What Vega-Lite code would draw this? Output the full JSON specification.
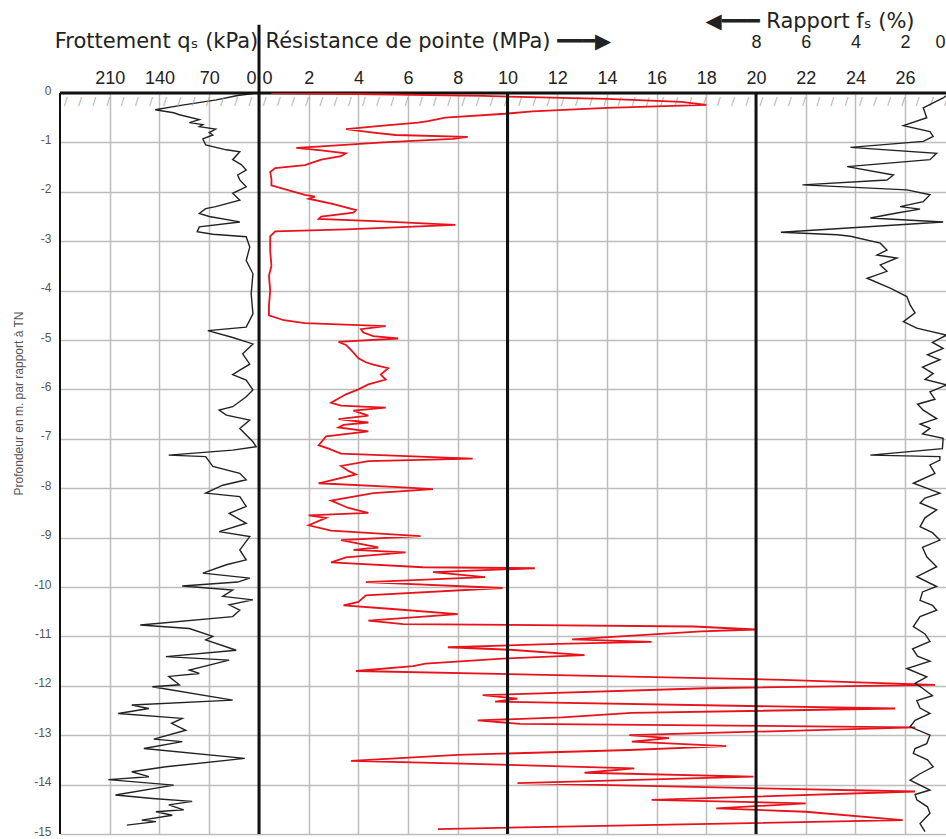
{
"$schema": "https://vega.github.io/schema/vega-lite/v6.json",
"autosize": {"type": "none"},
"padding": {"left": 60, "top": 93, "right": 0, "bottom": 5},
"width": 886,
"height": 741,
"background": "white",
"config": {
  "view": {"stroke": null},
  "axis": {"labelFont": "Liberation Sans", "titleFont": "DejaVu Sans", "titleFontWeight": "normal", "tickSize": 0, "ticks": false, "domain": false, "gridColor": "#bdbdbd", "gridWidth": 1.5, "labelColor": "#222", "titleColor": "#222"}
},
"datasets": {
  "qs": [
    {"d":-0.01,"v":8.5},{"d":-0.05,"v":30},{"d":-0.14,"v":60},{"d":-0.25,"v":110},{"d":-0.34,"v":146},{"d":-0.4,"v":120},{"d":-0.44,"v":112},{"d":-0.54,"v":84},{"d":-0.6,"v":98},{"d":-0.64,"v":79},{"d":-0.68,"v":84},{"d":-0.73,"v":61},{"d":-0.8,"v":70},{"d":-0.85,"v":65},{"d":-0.93,"v":79},{"d":-1.05,"v":75},{"d":-1.15,"v":46},{"d":-1.19,"v":27},{"d":-1.35,"v":37},{"d":-1.45,"v":25},{"d":-1.56,"v":18},{"d":-1.66,"v":30},{"d":-1.76,"v":27},{"d":-1.9,"v":18},{"d":-2.03,"v":37},{"d":-2.17,"v":27},{"d":-2.3,"v":61},{"d":-2.34,"v":75},{"d":-2.44,"v":84},{"d":-2.5,"v":70},{"d":-2.61,"v":27},{"d":-2.71,"v":84},{"d":-2.81,"v":87},{"d":-2.86,"v":65},{"d":-2.91,"v":18},{"d":-3.12,"v":13},{"d":-3.39,"v":18},{"d":-3.66,"v":8.5},{"d":-4.07,"v":11},{"d":-4.47,"v":8.5},{"d":-4.74,"v":18},{"d":-4.81,"v":72},{"d":-4.95,"v":37},{"d":-5.08,"v":8.5},{"d":-5.28,"v":23},{"d":-5.49,"v":13},{"d":-5.61,"v":27},{"d":-5.7,"v":37},{"d":-5.81,"v":18},{"d":-6.01,"v":8.5},{"d":-6.15,"v":18},{"d":-6.35,"v":37},{"d":-6.42,"v":56},{"d":-6.52,"v":46},{"d":-6.62,"v":13},{"d":-6.79,"v":27},{"d":-7.06,"v":8.5},{"d":-7.16,"v":4},{"d":-7.23,"v":37},{"d":-7.33,"v":127},{"d":-7.36,"v":75},{"d":-7.56,"v":65},{"d":-7.7,"v":27},{"d":-7.83,"v":18},{"d":-7.94,"v":51},{"d":-8.1,"v":75},{"d":-8.17,"v":27},{"d":-8.37,"v":18},{"d":-8.51,"v":42},{"d":-8.71,"v":18},{"d":-8.88,"v":56},{"d":-8.98,"v":13},{"d":-9.25,"v":27},{"d":-9.45,"v":18},{"d":-9.55,"v":46},{"d":-9.72,"v":79},{"d":-9.82,"v":13},{"d":-9.9,"v":30},{"d":-9.98,"v":108},{"d":-10.06,"v":37},{"d":-10.19,"v":51},{"d":-10.26,"v":8.5},{"d":-10.36,"v":42},{"d":-10.47,"v":27},{"d":-10.6,"v":37},{"d":-10.77,"v":167},{"d":-10.84,"v":98},{"d":-11.0,"v":65},{"d":-11.07,"v":75},{"d":-11.28,"v":32},{"d":-11.41,"v":131},{"d":-11.48,"v":42},{"d":-11.68,"v":98},{"d":-11.75,"v":84},{"d":-11.81,"v":127},{"d":-11.98,"v":112},{"d":-12.02,"v":150},{"d":-12.29,"v":37},{"d":-12.39,"v":179},{"d":-12.46,"v":155},{"d":-12.56,"v":198},{"d":-12.66,"v":108},{"d":-12.76,"v":123},{"d":-12.9,"v":103},{"d":-13.08,"v":148},{"d":-13.13,"v":108},{"d":-13.27,"v":162},{"d":-13.47,"v":20},{"d":-13.64,"v":131},{"d":-13.74,"v":179},{"d":-13.84,"v":155},{"d":-13.9,"v":212},{"d":-14.01,"v":120},{"d":-14.21,"v":202},{"d":-14.28,"v":150},{"d":-14.34,"v":94},{"d":-14.41,"v":127},{"d":-14.51,"v":106},{"d":-14.55,"v":145},{"d":-14.62,"v":122},{"d":-14.72,"v":165},{"d":-14.75,"v":145},{"d":-14.82,"v":186}
  ],
  "qc": [
    {"d":0,"v":0.5},{"d":-0.02,"v":4},{"d":-0.06,"v":9},{"d":-0.12,"v":14},{"d":-0.18,"v":17},{"d":-0.24,"v":18.0},{"d":-0.3,"v":14},{"d":-0.37,"v":11},{"d":-0.42,"v":9.9},{"d":-0.5,"v":7.5},{"d":-0.57,"v":6.8},{"d":-0.6,"v":6.4},{"d":-0.66,"v":5.0},{"d":-0.73,"v":3.5},{"d":-0.8,"v":4.6},{"d":-0.85,"v":5.5},{"d":-0.89,"v":8.4},{"d":-0.93,"v":7.8},{"d":-1.0,"v":5},{"d":-1.08,"v":2.5},{"d":-1.11,"v":1.5},{"d":-1.16,"v":2.5},{"d":-1.22,"v":3.5},{"d":-1.28,"v":3.3},{"d":-1.35,"v":2.5},{"d":-1.46,"v":1.85},{"d":-1.52,"v":0.65},{"d":-1.6,"v":0.45},{"d":-1.74,"v":0.5},{"d":-1.87,"v":0.5},{"d":-1.97,"v":1.2},{"d":-2.06,"v":1.85},{"d":-2.1,"v":2.25},{"d":-2.14,"v":2.0},{"d":-2.25,"v":3.0},{"d":-2.37,"v":3.9},{"d":-2.42,"v":3.8},{"d":-2.5,"v":2.5},{"d":-2.55,"v":2.4},{"d":-2.6,"v":4.9},{"d":-2.67,"v":7.9},{"d":-2.72,"v":5.5},{"d":-2.76,"v":3.5},{"d":-2.8,"v":0.65},{"d":-2.9,"v":0.45},{"d":-3.2,"v":0.45},{"d":-3.5,"v":0.5},{"d":-3.7,"v":0.4},{"d":-4.0,"v":0.45},{"d":-4.3,"v":0.4},{"d":-4.5,"v":0.4},{"d":-4.6,"v":1.0},{"d":-4.66,"v":1.85},{"d":-4.72,"v":5.1},{"d":-4.78,"v":4.1},{"d":-4.85,"v":4.2},{"d":-4.92,"v":4.6},{"d":-4.97,"v":5.6},{"d":-5.04,"v":3.2},{"d":-5.1,"v":3.5},{"d":-5.2,"v":3.7},{"d":-5.37,"v":4.0},{"d":-5.45,"v":4.3},{"d":-5.5,"v":4.6},{"d":-5.57,"v":5.2},{"d":-5.7,"v":4.9},{"d":-5.8,"v":5.1},{"d":-5.9,"v":4.4},{"d":-6.0,"v":4.0},{"d":-6.1,"v":3.5},{"d":-6.27,"v":2.9},{"d":-6.33,"v":3.3},{"d":-6.37,"v":5.1},{"d":-6.43,"v":3.8},{"d":-6.53,"v":4.4},{"d":-6.6,"v":3.2},{"d":-6.67,"v":4.4},{"d":-6.72,"v":3.4},{"d":-6.77,"v":3.2},{"d":-6.85,"v":4.4},{"d":-6.95,"v":2.7},{"d":-7.13,"v":2.4},{"d":-7.2,"v":2.8},{"d":-7.3,"v":3.3},{"d":-7.4,"v":8.6},{"d":-7.45,"v":4.4},{"d":-7.55,"v":3.3},{"d":-7.65,"v":3.6},{"d":-7.72,"v":3.9},{"d":-7.9,"v":2.4},{"d":-7.98,"v":5.6},{"d":-8.02,"v":7.0},{"d":-8.1,"v":4.6},{"d":-8.25,"v":2.9},{"d":-8.4,"v":3.6},{"d":-8.5,"v":4.4},{"d":-8.55,"v":2.0},{"d":-8.6,"v":2.7},{"d":-8.75,"v":2.0},{"d":-8.86,"v":2.9},{"d":-8.97,"v":6.5},{"d":-9.05,"v":3.3},{"d":-9.2,"v":4.8},{"d":-9.25,"v":3.8},{"d":-9.3,"v":5.9},{"d":-9.4,"v":3.5},{"d":-9.5,"v":2.9},{"d":-9.6,"v":6.6},{"d":-9.62,"v":11.1},{"d":-9.7,"v":7.0},{"d":-9.8,"v":9.1},{"d":-9.9,"v":4.3},{"d":-10.02,"v":9.8},{"d":-10.17,"v":4.3},{"d":-10.3,"v":4.0},{"d":-10.37,"v":3.4},{"d":-10.45,"v":5.5},{"d":-10.55,"v":8.0},{"d":-10.68,"v":4.4},{"d":-10.75,"v":5.8},{"d":-10.8,"v":17.5},{"d":-10.86,"v":20.0},{"d":-10.9,"v":17.8},{"d":-11.06,"v":12.6},{"d":-11.11,"v":15.8},{"d":-11.15,"v":12.0},{"d":-11.22,"v":7.6},{"d":-11.27,"v":10.1},{"d":-11.38,"v":13.1},{"d":-11.45,"v":9.8},{"d":-11.55,"v":6.7},{"d":-11.6,"v":6.2},{"d":-11.7,"v":3.9},{"d":-11.88,"v":21.1},{"d":-11.91,"v":22.9},{"d":-11.98,"v":27.2},{"d":-12.05,"v":18},{"d":-12.19,"v":9.0},{"d":-12.26,"v":10.4},{"d":-12.32,"v":9.5},{"d":-12.46,"v":25.6},{"d":-12.55,"v":15},{"d":-12.64,"v":12.2},{"d":-12.7,"v":8.8},{"d":-12.77,"v":10.5},{"d":-12.84,"v":26.4},{"d":-13.0,"v":14.9},{"d":-13.06,"v":16.5},{"d":-13.13,"v":15.0},{"d":-13.22,"v":18.8},{"d":-13.3,"v":14.9},{"d":-13.4,"v":8.0},{"d":-13.52,"v":3.7},{"d":-13.57,"v":7.8},{"d":-13.67,"v":15.1},{"d":-13.76,"v":13.1},{"d":-13.84,"v":19.9},{"d":-13.97,"v":10.4},{"d":-14.14,"v":26.4},{"d":-14.31,"v":15.8},{"d":-14.38,"v":22.0},{"d":-14.48,"v":18.4},{"d":-14.55,"v":22.0},{"d":-14.72,"v":25.9},{"d":-14.9,"v":7.2}
  ],
  "rf": [
    {"d":0,"v":0.2},{"d":-0.1,"v":0.47},{"d":-0.3,"v":1.27},{"d":-0.5,"v":1.13},{"d":-0.66,"v":2.07},{"d":-0.78,"v":1.0},{"d":-0.88,"v":0.87},{"d":-0.98,"v":1.27},{"d":-1.1,"v":4.2},{"d":-1.22,"v":0.73},{"d":-1.35,"v":1.0},{"d":-1.49,"v":4.33},{"d":-1.66,"v":2.47},{"d":-1.76,"v":2.73},{"d":-1.86,"v":6.13},{"d":-1.96,"v":1.93},{"d":-2.06,"v":1.0},{"d":-2.2,"v":1.27},{"d":-2.3,"v":2.2},{"d":-2.35,"v":1.4},{"d":-2.43,"v":2.33},{"d":-2.53,"v":3.4},{"d":-2.61,"v":0.47},{"d":-2.82,"v":7.0},{"d":-2.87,"v":4.73},{"d":-2.9,"v":4.2},{"d":-3.04,"v":3.0},{"d":-3.18,"v":2.73},{"d":-3.28,"v":3.13},{"d":-3.34,"v":2.33},{"d":-3.48,"v":3.0},{"d":-3.61,"v":2.73},{"d":-3.75,"v":3.53},{"d":-3.95,"v":2.6},{"d":-4.12,"v":1.93},{"d":-4.29,"v":1.8},{"d":-4.45,"v":1.6},{"d":-4.63,"v":2.07},{"d":-4.76,"v":1.53},{"d":-4.9,"v":0.33},{"d":-5.05,"v":0.9},{"d":-5.17,"v":0.47},{"d":-5.3,"v":1.1},{"d":-5.4,"v":0.6},{"d":-5.55,"v":1.3},{"d":-5.68,"v":0.87},{"d":-5.8,"v":1.2},{"d":-5.91,"v":0.33},{"d":-6.05,"v":1.0},{"d":-6.2,"v":0.8},{"d":-6.3,"v":1.5},{"d":-6.42,"v":1.27},{"d":-6.59,"v":0.73},{"d":-6.7,"v":1.4},{"d":-6.79,"v":1.0},{"d":-6.9,"v":1.3},{"d":-6.99,"v":0.47},{"d":-7.2,"v":0.5},{"d":-7.33,"v":3.4},{"d":-7.36,"v":0.6},{"d":-7.43,"v":0.6},{"d":-7.53,"v":1.0},{"d":-7.7,"v":0.8},{"d":-7.9,"v":1.67},{"d":-8.1,"v":0.6},{"d":-8.2,"v":1.2},{"d":-8.3,"v":1.4},{"d":-8.44,"v":0.73},{"d":-8.6,"v":1.2},{"d":-8.78,"v":1.4},{"d":-8.9,"v":0.9},{"d":-9.05,"v":0.6},{"d":-9.2,"v":1.3},{"d":-9.39,"v":1.13},{"d":-9.59,"v":0.73},{"d":-9.79,"v":1.53},{"d":-9.99,"v":0.73},{"d":-10.1,"v":1.3},{"d":-10.27,"v":1.4},{"d":-10.37,"v":0.9},{"d":-10.47,"v":0.73},{"d":-10.6,"v":1.4},{"d":-10.8,"v":1.67},{"d":-10.95,"v":1.2},{"d":-11.1,"v":1.0},{"d":-11.25,"v":1.7},{"d":-11.4,"v":1.5},{"d":-11.5,"v":1.0},{"d":-11.65,"v":1.93},{"d":-11.82,"v":1.13},{"d":-11.95,"v":1.6},{"d":-12.05,"v":1.3},{"d":-12.2,"v":0.9},{"d":-12.3,"v":1.53},{"d":-12.45,"v":1.4},{"d":-12.56,"v":1.0},{"d":-12.7,"v":1.6},{"d":-12.83,"v":1.8},{"d":-13.0,"v":1.0},{"d":-13.17,"v":1.13},{"d":-13.27,"v":1.6},{"d":-13.37,"v":1.67},{"d":-13.5,"v":1.1},{"d":-13.64,"v":0.87},{"d":-13.78,"v":1.4},{"d":-13.91,"v":1.8},{"d":-14.11,"v":1.0},{"d":-14.2,"v":1.6},{"d":-14.31,"v":1.53},{"d":-14.45,"v":1.1},{"d":-14.58,"v":1.0},{"d":-14.79,"v":1.4},{"d":-14.95,"v":1.2}
  ]
},
"layer": [
  {
    "layer": [
      {
        "data": {"name": "qs"},
        "mark": {"type": "line", "color": "#222", "strokeWidth": 1.4, "clip": true},
        "encoding": {
          "x": {"field": "v", "type": "quantitative",
                "scale": {"domain": [-966.7, 280], "reverse": true, "nice": false, "zero": false},
                "axis": {"orient": "top", "values": [210, 140, 70, 0], "grid": true, "labelFontSize": 18, "labelPadding": 10, "labelBaseline": "alphabetic",
                         "labelAlign": {"condition": {"test": "datum.value == 0", "value": "right"}, "value": "center"},
                         "labelOffset": {"condition": {"test": "datum.value == 0", "value": -3}, "value": 0},
                         "title": "Frottement qₛ (kPa)", "titleFontSize": 21, "titleX": 96, "titleY": -46, "titleBaseline": "alphabetic", "titleAlign": "center"}},
          "y": {"field": "d", "type": "quantitative",
                "scale": {"domain": [-15, 0], "nice": false, "zero": false},
                "axis": {"orient": "left", "values": [0,-1,-2,-3,-4,-5,-6,-7,-8,-9,-10,-11,-12,-13,-14,-15], "grid": true, "labelFontSize": 12, "labelColor": "#555", "labelPadding": 9, "labelOffset": -3,
                         "labelExpr": "replace(datum.label, '−', '-')",
                         "title": "Profondeur en m. par rapport à TN", "titleFont": "Liberation Sans", "titleFontSize": 12, "titleColor": "#555", "titleX": -42, "titleY": 310, "titleBaseline": "middle"}},
          "order": {"field": "d", "type": "quantitative", "sort": "descending"}
        }
      },
      {
        "data": {"values": [{}]},
        "mark": {"type": "text", "align": "left", "baseline": "top", "dy": 3, "dx": 4, "fontSize": 11, "color": "#aaa", "font": "DejaVu Sans", "clip": true},
        "encoding": {"x": {"datum": 280}, "y": {"datum": 0}, "text": {"value": "/\u00a0\u00a0\u00a0/\u00a0\u00a0\u00a0/\u00a0\u00a0\u00a0/\u00a0\u00a0\u00a0/\u00a0\u00a0\u00a0/\u00a0\u00a0\u00a0/\u00a0\u00a0\u00a0/\u00a0\u00a0\u00a0/\u00a0\u00a0\u00a0/\u00a0\u00a0\u00a0/\u00a0\u00a0\u00a0/\u00a0\u00a0\u00a0/\u00a0\u00a0\u00a0/\u00a0\u00a0\u00a0/\u00a0\u00a0\u00a0/\u00a0\u00a0\u00a0/\u00a0\u00a0\u00a0/\u00a0\u00a0\u00a0/\u00a0\u00a0\u00a0/\u00a0\u00a0\u00a0/\u00a0\u00a0\u00a0/\u00a0\u00a0\u00a0/\u00a0\u00a0\u00a0/\u00a0\u00a0\u00a0/\u00a0\u00a0\u00a0/\u00a0\u00a0\u00a0/\u00a0\u00a0\u00a0/\u00a0\u00a0\u00a0/\u00a0\u00a0\u00a0/\u00a0\u00a0\u00a0/\u00a0\u00a0\u00a0/\u00a0\u00a0\u00a0/\u00a0\u00a0\u00a0/\u00a0\u00a0\u00a0/\u00a0\u00a0\u00a0/\u00a0\u00a0\u00a0/\u00a0\u00a0\u00a0/\u00a0\u00a0\u00a0/\u00a0\u00a0\u00a0/\u00a0\u00a0\u00a0/\u00a0\u00a0\u00a0/\u00a0\u00a0\u00a0/\u00a0\u00a0\u00a0/\u00a0\u00a0\u00a0/\u00a0\u00a0\u00a0/\u00a0\u00a0\u00a0/\u00a0\u00a0\u00a0/\u00a0\u00a0\u00a0/\u00a0\u00a0\u00a0/\u00a0\u00a0\u00a0/\u00a0\u00a0\u00a0/\u00a0\u00a0\u00a0/\u00a0\u00a0\u00a0/\u00a0\u00a0\u00a0/\u00a0\u00a0\u00a0/\u00a0\u00a0\u00a0/\u00a0\u00a0\u00a0/\u00a0\u00a0\u00a0/\u00a0\u00a0\u00a0/\u00a0\u00a0\u00a0/\u00a0\u00a0\u00a0/\u00a0\u00a0\u00a0/"}}
      },
      {"data": {"values": [{}]}, "mark": {"type": "rule", "color": "#111", "strokeWidth": 2}, "encoding": {"x": {"datum": 280}}},
      {"data": {"values": [{}]}, "mark": {"type": "rule", "color": "#111", "strokeWidth": 3}, "encoding": {"y": {"datum": 0}}}
    ]
  },
  {
    "layer": [
      {
        "data": {"name": "qc"},
        "mark": {"type": "line", "color": "#e8121a", "strokeWidth": 1.8, "clip": true},
        "encoding": {
          "x": {"field": "v", "type": "quantitative",
                "scale": {"domain": [-8.008, 27.645], "nice": false, "zero": false},
                "axis": {"orient": "top", "values": [0,2,4,6,8,10,12,14,16,18,20,22,24,26], "grid": true, "labelFontSize": 18, "labelPadding": 10, "labelBaseline": "alphabetic",
                         "labelAlign": {"condition": {"test": "datum.value == 0", "value": "left"}, "value": "center"},
                         "labelOffset": {"condition": {"test": "datum.value == 0", "value": 3}, "value": 0},
                         "title": "Résistance de pointe (MPa) ━━━▶", "titleFontSize": 21, "titleX": 205, "titleY": -46, "titleBaseline": "alphabetic", "titleAlign": "left"}},
          "y": {"field": "d", "type": "quantitative", "scale": {"domain": [-15, 0], "nice": false, "zero": false}},
          "order": {"field": "d", "type": "quantitative", "sort": "descending"}
        }
      },
      {"data": {"values": [{}]}, "mark": {"type": "rule", "color": "#111", "strokeWidth": 3}, "encoding": {"x": {"datum": 0}, "y": {"datum": 1.38}, "y2": {"datum": -15}}},
      {"data": {"values": [{}]}, "mark": {"type": "rule", "color": "#111", "strokeWidth": 3}, "encoding": {"x": {"datum": 10}}},
      {"data": {"values": [{}]}, "mark": {"type": "rule", "color": "#111", "strokeWidth": 3}, "encoding": {"x": {"datum": 20}}}
    ]
  },
  {
    "data": {"name": "rf"},
    "mark": {"type": "line", "color": "#222", "strokeWidth": 1.4, "clip": true},
    "encoding": {
      "x": {"field": "v", "type": "quantitative",
            "scale": {"domain": [0.355, 36.008], "reverse": true, "nice": false, "zero": false},
            "axis": {"orient": "top", "values": [8, 6, 4, 2, 0.6], "grid": false, "labelFontSize": 18, "labelPadding": 46, "labelBaseline": "alphabetic",
                     "labelExpr": "datum.value < 1 ? '0' : datum.label",
                     "title": "◀━━━ Rapport fₛ (%)", "titleFontSize": 21, "titleX": 645, "titleY": -66, "titleBaseline": "alphabetic", "titleAlign": "left"}},
      "y": {"field": "d", "type": "quantitative", "scale": {"domain": [-15, 0], "nice": false, "zero": false}},
      "order": {"field": "d", "type": "quantitative", "sort": "descending"}
    }
  }
],
"resolve": {"scale": {"x": "independent"}, "axis": {"x": "independent"}}
}
